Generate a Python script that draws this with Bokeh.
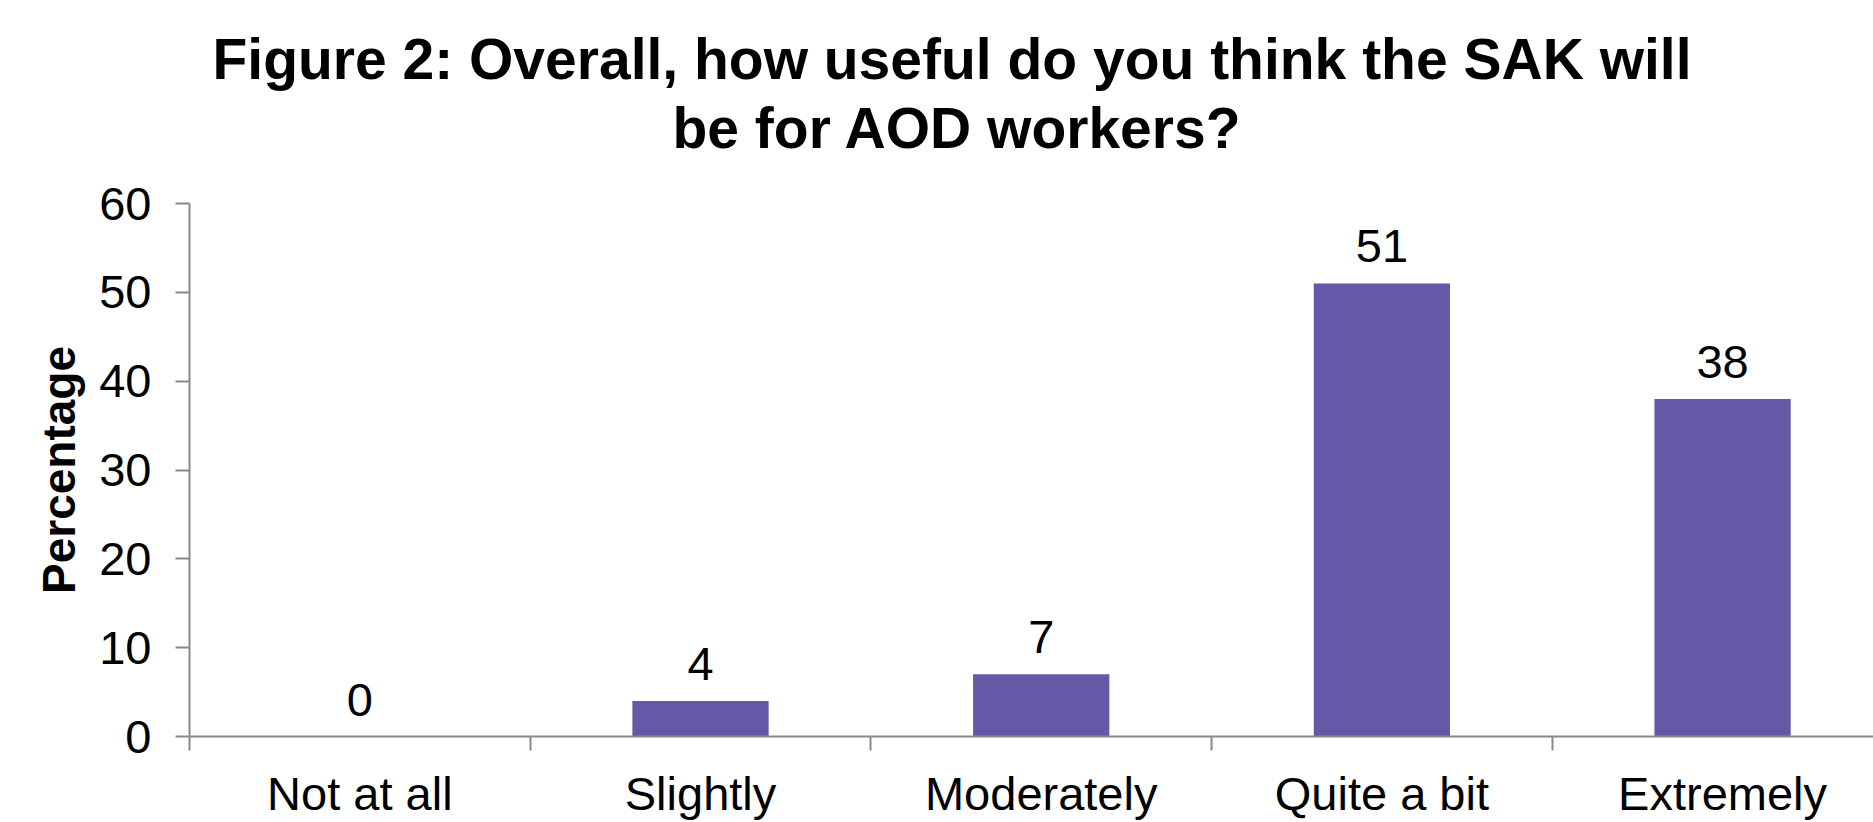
from bokeh.plotting import figure
from bokeh.models import Range1d, FixedTicker, Title, ColumnDataSource
from bokeh.core.properties import value
from bokeh.embed import file_html
from bokeh.resources import INLINE

# Survey responses: usefulness of the SAK for AOD workers
categories = ["Not at all", "Slightly", "Moderately", "Quite a bit", "Extremely"]
percentages = [0, 4, 7, 51, 38]
y_ticks = [0, 10, 20, 30, 40, 50, 60]
title_lines = ["Figure 2: Overall, how useful do you think the SAK will",
               "be for AOD workers?"]

FONT = "Liberation Sans"
BAR = "#6558A6"
AXIS = "#898989"

centers = [i + 0.5 for i in range(len(categories))]
src = ColumnDataSource(dict(x=centers, y=percentages,
                            lbl=[str(v) for v in percentages]))

p = figure(width=1873, height=822, output_backend="svg", toolbar_location=None,
           title=None,
           x_range=Range1d(0, 4.943), y_range=Range1d(0, 60),
           min_border_left=189, min_border_right=0,
           min_border_top=203, min_border_bottom=86)
p.outline_line_color = None
p.grid.visible = False
p.background_fill_color = "white"
p.border_fill_color = "white"

p.vbar(x="x", top="y", width=0.4, bottom=0, source=src,
       fill_color=BAR, line_color=None)
p.text(x="x", y="y", text="lbl", source=src, y_offset=-37,
       text_align="center", text_baseline="alphabetic",
       text_font=value(FONT), text_font_size="47px", text_color="black")

# x axis: category names at centres, separator ticks at boundaries
xa = p.xaxis[0]
xa.ticker = FixedTicker(ticks=centers, minor_ticks=list(range(len(categories) + 1)))
xa.major_label_overrides = {c: n for c, n in zip(centers, categories)}
xa.major_tick_in = 0
xa.major_tick_out = 0
xa.minor_tick_in = 0
xa.minor_tick_out = 14
xa.minor_tick_line_color = AXIS
xa.minor_tick_line_width = 2
xa.axis_line_color = AXIS
xa.axis_line_width = 2
xa.major_label_text_font = FONT
xa.major_label_text_font_size = "47px"
xa.major_label_text_color = "black"
xa.major_label_standoff = 16

ya = p.yaxis[0]
ya.ticker = FixedTicker(ticks=y_ticks)
ya.major_tick_in = 0
ya.major_tick_out = 14
ya.minor_tick_out = 0
ya.minor_tick_in = 0
ya.major_tick_line_color = AXIS
ya.major_tick_line_width = 2
ya.axis_line_color = AXIS
ya.axis_line_width = 2
ya.major_label_text_font = FONT
ya.major_label_text_font_size = "47px"
ya.major_label_text_color = "black"
ya.major_label_standoff = 24
ya.axis_label = "Percentage"
ya.axis_label_text_font = FONT
ya.axis_label_text_font_style = "bold"
ya.axis_label_text_font_size = "46px"
ya.axis_label_text_color = "black"
ya.axis_label_standoff = 11

# two-line bold title above the plot area (nearest line added first)
title_offsets = [23, 483]
title_standoffs = [-80, 87]
for line, off, so in reversed(list(zip(title_lines, title_offsets, title_standoffs))):
    p.add_layout(Title(text=line, align="left", offset=off,
                       text_font=FONT, text_font_style="bold",
                       text_font_size="57px", text_color="black",
                       standoff=so), "above")

open("out.html", "w").write(file_html(p, INLINE))
